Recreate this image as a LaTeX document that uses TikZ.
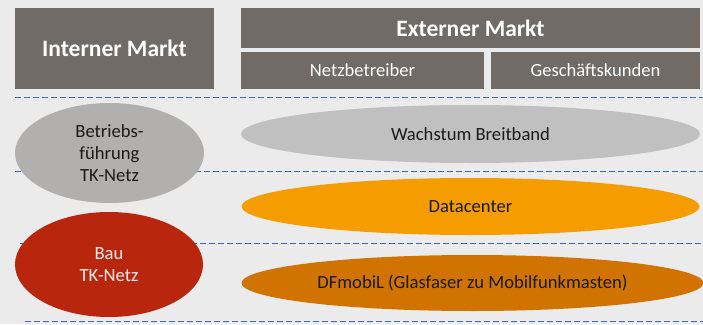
\documentclass[tikz,border=0pt]{standalone}
\usepackage{fontspec}
\setmainfont{Carlito}
\usetikzlibrary{shapes.geometric}
\definecolor{bg}{HTML}{EBEBEB}
\definecolor{boxgray}{HTML}{706B66}
\definecolor{dashblue}{HTML}{3D66B8}
\definecolor{ellgray}{HTML}{B1B0AE}
\definecolor{elllight}{HTML}{C0C0C0}
\definecolor{orangeA}{HTML}{F59D00}
\definecolor{orangeB}{HTML}{D07300}
\definecolor{redA}{HTML}{B8270D}
\definecolor{txtdark}{HTML}{1A1A1A}
\tikzset{
  hdr/.style={fill=boxgray, draw=none, text=white, inner sep=0pt},
  sep/.style={draw=dashblue, line width=1.5pt, dash pattern=on 6pt off 3pt},
  ell/.style={ellipse, draw=none, inner sep=0pt, align=center},
}
\begin{document}
\begin{tikzpicture}[x=1pt,y=-1pt]
\fill[bg] (0,0) rectangle (703,324);
\useasboundingbox (0,0) rectangle (703,324);
% header boxes
\node[hdr, minimum width=199pt, minimum height=81pt, font=\bfseries\fontsize{23.5}{28}\selectfont] (im) at (114.5,48.5) {Interner Markt};
\node[hdr, minimum width=459pt, minimum height=40pt, font=\bfseries\fontsize{23.5}{28}\selectfont] (em) at (470.5,28) {Externer Markt};
\node[hdr, minimum width=243pt, minimum height=37pt, font=\fontsize{18.6}{22}\selectfont] (nb) at (362.5,70.5) {Netzbetreiber};
\node[hdr, minimum width=209pt, minimum height=37pt, font=\fontsize{18.6}{22}\selectfont] (gk) at (595.5,70.5) {Geschäftskunden};
% dashed separators
\coordinate (l1a) at (15,97.5); \coordinate (l1b) at (703,97.5);
\coordinate (l2a) at (15,171.5); \coordinate (l2b) at (703,171.5);
\coordinate (l3a) at (20,243.5); \coordinate (l3b) at (703,243.5);
\coordinate (l4a) at (25,321.5); \coordinate (l4b) at (703,321.5);
\draw[sep] (l1a) -- (l1b);
\draw[sep] (l2a) -- (l2b);
\draw[sep] (l3a) -- (l3b);
\draw[sep] (l4a) -- (l4b);
% ellipses
\node[ell, fill=ellgray, minimum width=189pt, minimum height=100pt, text=txtdark, font=\fontsize{18.6}{22}\selectfont] (bf) at (109.5,153) {Betriebs-\\führung\\TK-Netz};
\node[ell, fill=redA, minimum width=188pt, minimum height=105pt, text=white!92!red, font=\fontsize{18.6}{22}\selectfont] (bau) at (109,264.5) {Bau\\TK-Netz};
\node[ell, fill=elllight, minimum width=459pt, minimum height=58pt, text=txtdark, font=\fontsize{18.6}{22}\selectfont] (wb) at (470.5,134) {Wachstum Breitband};
\node[ell, fill=orangeA, minimum width=458pt, minimum height=57pt, text=txtdark, font=\fontsize{18.6}{22}\selectfont] (dc) at (470.5,206.5) {Datacenter};
\node[ell, fill=orangeB, minimum width=462pt, minimum height=56pt, text=txtdark, font=\fontsize{18.6}{22}\selectfont] (df) at (472.5,283) {DFmobiL (Glasfaser zu Mobilfunkmasten)};
\end{tikzpicture}
\end{document}
